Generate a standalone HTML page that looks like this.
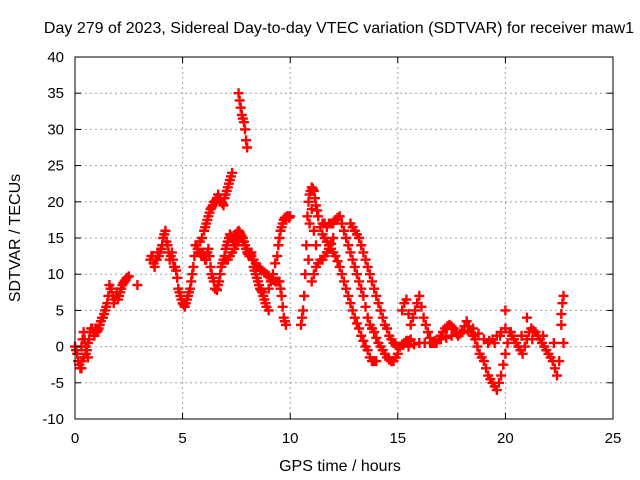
<!DOCTYPE html>
<html><head><meta charset="utf-8"><style>
body{margin:0;background:#fff;}
svg{display:block;font-family:"Liberation Sans",sans-serif;}
</style></head><body>
<svg id="chart" width="640" height="480" viewBox="0 0 640 480">
<rect width="640" height="480" fill="#fff"/>
<text x="339" y="33" font-size="16" text-anchor="middle">Day 279 of 2023, Sidereal Day-to-day VTEC variation (SDTVAR) for receiver maw1</text>
<g id="grid"></g><g id="marks"></g><g id="axes"></g>
<text x="340" y="471" font-size="16" text-anchor="middle">GPS time / hours</text>
<text transform="translate(20,238) rotate(-90)" font-size="16" text-anchor="middle">SDTVAR / TECUs</text>
</svg>
<script>
const xTicks=[0,5,10,15,20,25];
const yTicks=[-10,-5,0,5,10,15,20,25,30,35,40];
const trackEarly=[[0,0],[0.1,-1],[0.2,-2.5],[0.3,-3],[0.35,1],[0.4,2],[0.5,0],[0.6,-1.5],[0.7,2],[0.8,2.5],[0.9,1.5],[1.0,2],[1.1,2.5],[1.2,3.5],[1.3,4],[1.4,5],[1.5,6],[1.6,8.5],[1.7,8],[1.8,6],[1.9,7],[2.0,6.5],[2.1,7.5],[2.2,8.5],[2.3,9],[2.4,9.5],[2.5,9.7],[2.9,8.5],
[0.05,-0.5],[0.15,-2],[0.25,-3],[0.3,0],[0.45,1],[0.55,-0.5],[0.65,1],[0.75,2.5],[0.85,2],[0.95,2.5],[1.05,2.2],[1.15,3],[1.25,4],[1.35,4.5],[1.45,5.5],[1.55,7],[1.65,8],[1.75,7],[1.85,6.5],[1.95,7.5],[2.05,7],[2.15,8],[2.25,8.8],[2.35,9.2],[0.3,-2],[0.4,-1.5],[0.5,-1],[0.6,0.5]];
const trackMid=[[3.5,12],[3.6,12.5],[3.7,11],[3.8,12],[3.9,12.5],[4.0,13.5],[4.1,15],[4.2,16],[4.3,14],[4.4,12],[4.5,13],[4.6,11],[4.7,10.5],[4.8,8],[4.9,7],[5.0,6],[5.1,5.5],[5.2,6.5],[5.3,7.5],[5.4,9],[5.5,11],[5.6,14],[5.7,13.5],[5.8,13],[5.9,12.5],[6.0,12.5],[6.1,12],[6.2,13.5],[6.3,11],[6.4,9.5],[6.5,8],[6.6,7.8],[6.7,9],[6.8,11],[6.9,12],[7.0,13.5],[7.1,14.5],[7.2,15.5],[7.3,15],[7.4,14],[7.5,15.5],[7.6,16],[7.7,15.5],[7.8,15],[7.9,14],[8.0,13],[8.1,12.5],[8.2,13],[8.3,11],[8.4,10],[8.5,9],[8.6,8],[8.7,7.5],[8.8,6.5],[8.9,5.5],[9.0,5],
[3.55,12.5],[3.65,11.5],[3.75,12],[3.85,13],[3.95,13],[4.05,14],[4.15,15.5],[4.25,14.5],[4.35,13],[4.45,12.5],[4.55,12],[4.65,11],[4.75,9.5],[4.85,7.5],[4.95,6.5],[5.05,5.8],[5.15,6],[5.25,7],[5.35,8],[5.45,10],[5.55,12.5],[5.65,14],[5.75,13],[5.85,12.8],[5.95,13],[6.05,12],[6.15,13],[6.25,12.5],[6.35,10],[6.45,9],[6.55,8],[6.65,8.5],[6.75,10],[6.85,11.5],[6.95,12.5],[7.05,14],[7.15,15],[7.25,15.2],[7.35,14.5],[7.45,14.8],[7.55,15.8],[7.65,15.8],[7.75,15.2],[7.85,14.5],[7.95,13.5],[8.05,12.8],[8.15,12.8],[8.25,12],[8.35,10.5],[8.45,9.5],[8.55,8.5],[8.65,7.8],[8.75,7],[8.85,6]];
const trackLow=[[7.0,12],[7.1,12],[7.3,13],[7.5,14],[7.7,15],[7.9,14],[8.1,13],[8.3,12],[8.5,11],[8.7,10.5],[8.9,10],[9.1,9.5],[9.3,9],[9.5,9],[9.6,7],[9.7,4],[9.8,3],
[7.2,12.5],[7.4,13.5],[7.6,14.5],[7.8,14.5],[8.0,13.5],[8.2,12.5],[8.4,11.5],[8.6,10.8],[8.8,10.2],[9.0,9.8],[9.2,9.2],[9.4,9],[9.55,8],[9.65,5.5],[9.75,3.5]];
const trackRise=[[5.8,14.5],[6.0,16],[6.1,17],[6.2,18],[6.3,19],[6.4,19.5],[6.5,20],[6.6,20.5],[6.7,20.5],[6.8,20],[6.9,19.5],[7.0,21],[7.1,22],[7.2,23],[7.3,24],[7.6,35],[7.7,33],[7.8,31.5],[7.9,30],[8.0,27.5],[9.0,8],[9.2,10],[9.4,12.5],[9.5,15],[9.6,16.5],[9.7,17.5],[9.8,17.8],[9.9,18],[10.0,18],
[5.9,15],[6.05,16.5],[6.15,17.5],[6.25,18.5],[6.35,19.2],[6.45,20],[6.55,20.2],[6.65,21],[6.75,20.2],[6.85,19.8],[6.95,20.5],[7.05,21.5],[7.15,22.5],[7.25,23.5],[7.65,34],[7.75,32],[7.85,31],[7.95,28.5],[9.1,9],[9.3,11.5],[9.45,14],[9.55,16],[9.65,17],[9.75,17.8],[9.85,18],[9.95,17.8]];
const trackPeak=[[10.5,3],[10.6,5],[10.7,10],[10.8,18],[10.9,21],[11.0,22],[11.1,21.5],[11.2,19.5],[11.3,18],[11.6,15],[12.0,13],[12.3,11],[12.6,8],[12.9,5],[13.2,2.5],[13.5,0],[13.8,-2],[14.0,-2],[11.0,9],[11.2,11],[11.5,12],[11.8,13.5],[12.0,15],[11.5,17],[12.0,17],[12.3,18],[12.5,16],[12.8,13],[13.1,10],[13.4,7],[13.6,4],[13.9,2],[14.2,0],[14.5,-1.5],[14.8,-2],[15.0,-1],[12.8,17],[13.2,15],[13.5,12],[13.8,9],[14.1,6],[14.4,3],[14.7,1],[15.0,0],[15.3,0.5],[15.6,1],
[10.55,4],[10.65,7],[10.75,14],[10.85,20],[10.95,21.5],[11.05,21.8],[11.15,20.5],[11.25,18.8],[11.4,16.5],[11.5,15.5],[11.7,14.5],[11.8,14],[11.9,13.5],[12.1,12.5],[12.2,11.8],[12.4,10],[12.5,9],[12.7,7],[12.8,6],[13.0,4],[13.1,3.2],[13.3,1.5],[13.4,0.8],[13.6,-0.5],[13.7,-1.5],[13.9,-2],[11.1,10],[11.3,11.5],[11.4,12],[11.6,12.5],[11.7,13],[11.9,14.2],[11.6,17],[11.7,16.5],[11.8,17],[11.9,17],[12.1,17.5],[12.2,17.8],[12.4,17],[12.6,15],[12.7,14],[12.9,12],[13.0,11],[13.2,9],[13.3,8],[13.5,5.5],[13.7,3],[13.8,2.5],[14.0,1.2],[14.1,0.5],[14.3,-0.5],[14.4,-1],[14.6,-1.8],[14.7,-2],[14.9,-1.5],[12.9,16.5],[13.0,16],[13.1,15.5],[13.3,14],[13.4,13],[13.6,11],[13.7,10],[13.9,8],[14.0,7],[14.2,5],[14.3,4],[14.5,2.5],[14.6,1.5],[14.8,0.5],[14.9,0.2],[15.1,0],[15.2,0.3],[15.4,0.8],[15.5,0.8],[11.0,19],[10.9,17],[10.85,12],[11.1,16],[11.2,14]];
const trackLate=[[15.2,5],[15.4,6.5],[15.6,3],[15.8,5],[16.0,7],[16.2,4],[16.4,2],[16.6,0.5],[16.8,0.5],[17.0,1.5],[17.2,2.5],[17.4,3],[17.6,2.5],[17.8,1.5],[18.0,2],[18.2,3.5],[18.4,2],[18.6,1],[18.8,-1],[19.0,-2],[19.2,-4],[19.4,-5],[19.6,-6],[19.8,-4],[20.0,-1],[20.2,2],[20.4,1],[20.6,0],[20.8,-1],[21.0,1],[21.2,2.5],[21.4,2],[21.6,1],[21.8,0],[22.0,-1],[22.2,-2],[22.4,-4],[22.6,3],[22.7,7],[15.5,0],[16,0.5],[16.5,0.5],[17,1],[17.5,1.5],[18,2],[18.5,2.5],[19,1],[19.5,0.5],[20,2.5],[20.0,5],[21.0,4],[22.7,0.5],
[15.3,6],[15.5,4.5],[15.7,4],[15.9,6],[16.1,5.5],[16.3,3],[16.5,1.2],[16.7,0.5],[16.9,1],[17.1,2],[17.3,2.8],[17.5,2.8],[17.7,2],[17.9,1.8],[18.1,2.8],[18.3,2.8],[18.5,1.5],[18.7,0],[18.9,-1.5],[19.1,-3],[19.3,-4.5],[19.5,-5.5],[19.7,-5],[19.9,-2.5],[20.1,0.5],[20.3,1.5],[20.5,0.5],[20.7,-0.5],[20.9,0],[21.1,2],[21.3,2.2],[21.5,1.5],[21.7,0.5],[21.9,-0.5],[22.1,-1.5],[22.3,-3],[22.6,4.5],[22.65,6],[15.25,0.2],[15.75,0.3],[16.25,0.5],[16.75,0.8],[17.25,1.2],[17.75,1.8],[18.25,2.2],[18.75,1.8],[19.25,0.8],[19.75,1.5],[20.25,2],[20.75,1.5],[21.25,1],[21.75,1.5],[22.25,0.5],[22.5,-2],[19.2,0.5],[19.4,1],[19.6,1.5],[19.8,2]];
const series=[trackEarly,trackMid,trackLow,trackRise,trackPeak,trackLate];

const X0=75,X1=613,Y0=419,Y1=57;
const xs=t=>X0+(t-0)/(25-0)*(X1-X0);
const ys=v=>Y0-(v+10)/(40+10)*(Y0-Y1);
const NS="http://www.w3.org/2000/svg";
const grid=document.getElementById('grid'),axes=document.getElementById('axes'),marks=document.getElementById('marks');
function mk(tag,attrs,parent){const e=document.createElementNS(NS,tag);for(const k in attrs)e.setAttribute(k,attrs[k]);parent.appendChild(e);return e;}
xTicks.forEach(t=>{const x=xs(t);
 if(t>0&&t<25){const g=mk('line',{x1:x,x2:x,y1:Y1,y2:Y0,stroke:'#a0a0a0','stroke-dasharray':'2,3'},grid);}
 mk('line',{x1:x,x2:x,y1:Y0,y2:Y0-6,stroke:'#000'},axes);mk('line',{x1:x,x2:x,y1:Y1,y2:Y1+6,stroke:'#000'},axes);
 const l=mk('text',{x:x,y:Y0+24,'font-size':15,'text-anchor':'middle'},axes);l.textContent=t;
 });
yTicks.forEach(v=>{const y=ys(v);
 if(v>-10&&v<40){const g=mk('line',{x1:X0,x2:X1,y1:y,y2:y,stroke:'#a0a0a0','stroke-dasharray':'2,3'},grid);}
 mk('line',{x1:X0,x2:X0+6,y1:y,y2:y,stroke:'#000'},axes);mk('line',{x1:X1,x2:X1-6,y1:y,y2:y,stroke:'#000'},axes);
 const l=mk('text',{x:X0-11,y:y+5,'font-size':15,'text-anchor':'end'},axes);l.textContent=v;
 });
const fr=mk('rect',{x:X0,y:Y1,width:X1-X0,height:Y0-Y1,fill:'none',stroke:'#000'},axes);

series.forEach(s=>s.forEach(([t,v])=>{const x=xs(t),y=ys(v);
 const p=mk('path',{d:`M${x-5},${y}h10M${x},${y-5}v10`,stroke:'#f00','stroke-width':2.4},marks);
 
 }));
</script>
</body></html>
